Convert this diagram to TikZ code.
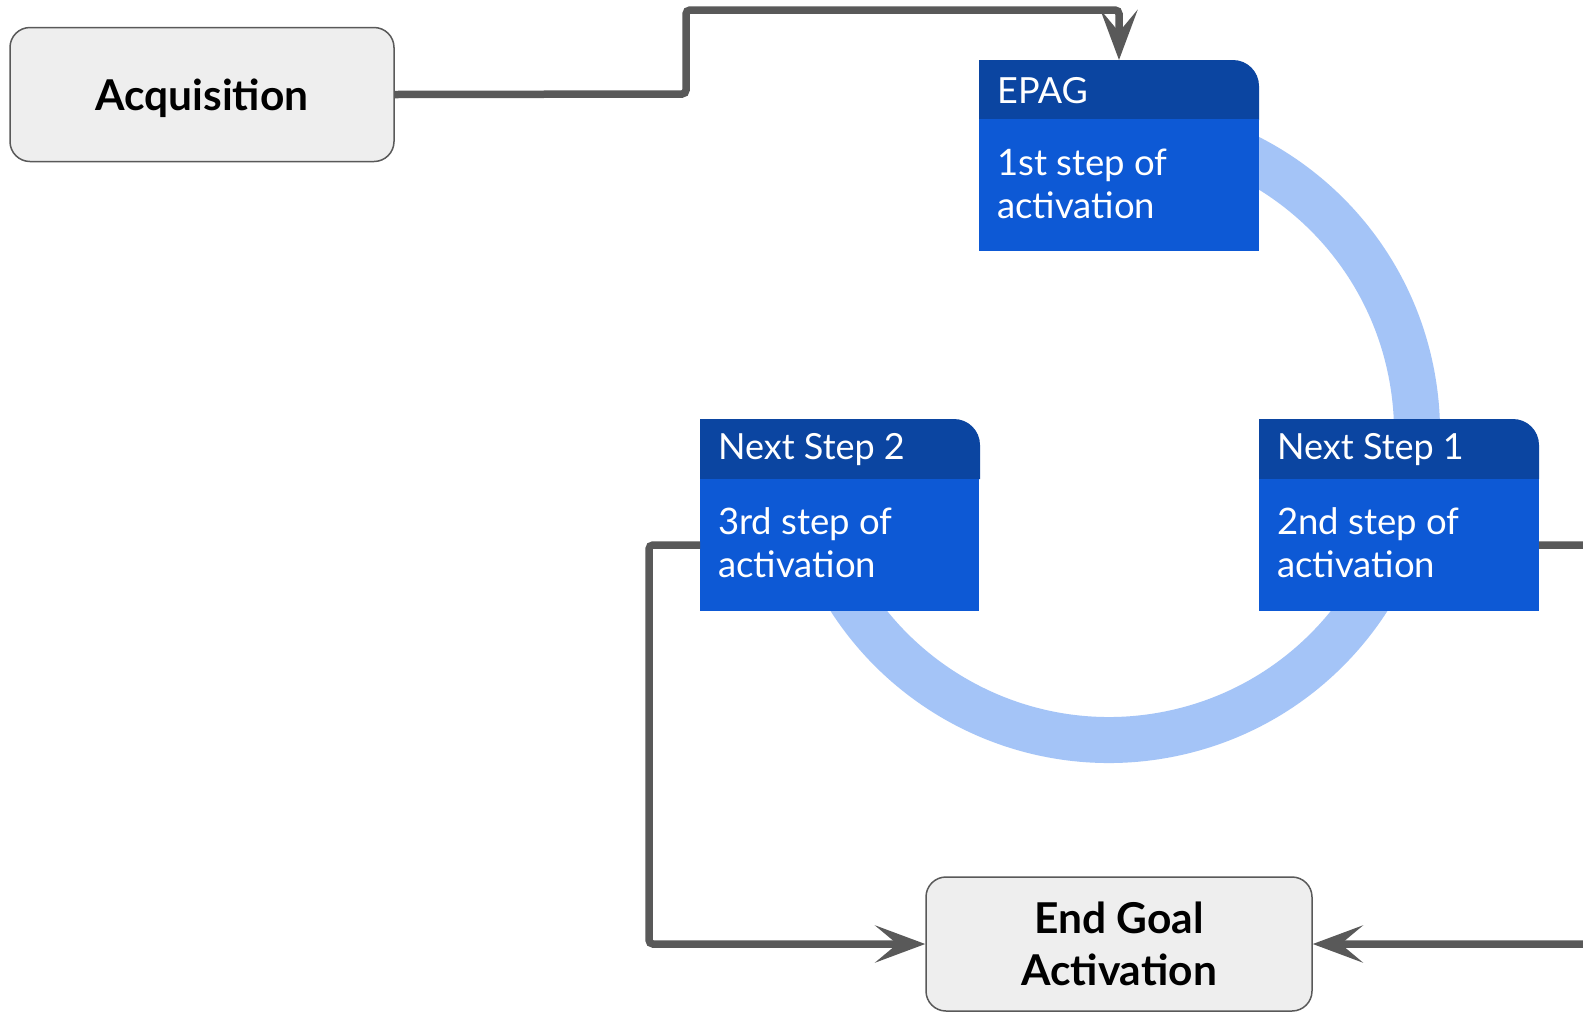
\documentclass[tikz,border=0pt]{standalone}
\usepackage{fontspec}
\setmainfont{Lato}
\usetikzlibrary{arrows.meta}
\definecolor{hdr}{HTML}{0B45A1}
\definecolor{bdy}{HTML}{0D59D5}
\definecolor{ring}{HTML}{A4C4F7}
\definecolor{conn}{HTML}{595959}
\definecolor{boxfill}{HTML}{EEEEEE}
\tikzset{
  gbox/.style={draw=conn, line width=1.5pt, fill=boxfill, rounded corners=20pt, minimum width=384pt, minimum height=134pt, inner sep=0pt, align=center, font=\fontsize{42.5}{52}\selectfont\bfseries},
  cardbody/.style={fill=bdy, minimum width=280pt, minimum height=132pt, inner sep=0pt, outer sep=0pt},
  cardtitle/.style={text=white, anchor=west, inner sep=0pt, font=\fontsize{36}{43}\selectfont},
  cardtext/.style={text=white, anchor=west, inner sep=0pt, align=left, font=\fontsize{36.5}{43}\selectfont},
  conn/.style={draw=conn, line width=7.5pt, rounded corners=4pt},
  tip/.style={-{Stealth[length=50pt, width=37pt, inset=22pt]}}
}
\newcommand{\cardhead}[2]{% x1, ytop
  \fill[hdr] (#1,-#2-60) -- (#1,-#2) -- (#1+254,-#2) arc[start angle=90, end angle=0, radius=26] -- (#1+280,-#2-60) -- cycle;
}
\begin{document}
\begin{tikzpicture}[x=1pt,y=1pt]
\useasboundingbox (0,0) rectangle (1583,-1013);
\clip (0,0) rectangle (1583,-1013);
\fill[white] (0,0) rectangle (1583,-1013);
% ring arc (partial)
\draw[ring, line width=46pt] (1109,-432) ++(100:308) arc[start angle=100, end angle=-160, radius=308];
% cards
\cardhead{979}{60}
\node[cardbody, anchor=north west] (epag) at (979,-119) {};
\node[cardtitle] (epagt) at (997,-90.5) {EPAG};
\node[cardtext] (epagb) at (997,-183.5) {1st step of\\activation};
\cardhead{1259}{419}
\node[cardbody, anchor=north west] (ns1) at (1259,-479) {};
\node[cardtitle] (ns1t) at (1277,-450) {Next Step 1};
\node[cardtext] (ns1b) at (1277,-543) {2nd step of\\activation};
\cardhead{700}{419}
\node[cardbody, anchor=north west, minimum width=279pt] (ns2) at (700,-479) {};
\node[cardtitle] (ns2t) at (718,-450) {Next Step 2};
\node[cardtext] (ns2b) at (718,-543) {3rd step of\\activation};
% grey boxes
\node[gbox] (acq) at (202,-94.5) {\raisebox{-16pt}[0pt][0pt]{Acquisition}};
\node[gbox, minimum width=386pt] (end) at (1119,-944) {\raisebox{-2pt}{End Goal}\\\raisebox{-2pt}{Activation}};
% connectors
\coordinate (epagtop) at (1119,-60);
\draw[conn, tip] (acq.east) -- (686,-94) -- (686,-10) -- (1119,-10) -- (epagtop);
\draw[conn, tip] (ns2.west |- 0,-545) -- (649,-545) -- (649,-944) -- (end.west);
\draw[conn, tip] (ns1.east |- 0,-545) -- (1640,-545) -- (1640,-944) -- (end.east);
\end{tikzpicture}
\end{document}
